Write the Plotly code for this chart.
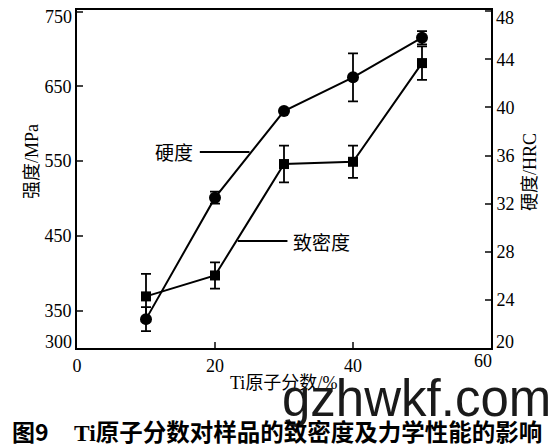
import plotly.graph_objects as go

ti_frac = [10, 20, 30, 40, 50]
hardness = [22.4, 32.5, 39.7, 42.5, 45.8]
hardness_err = [1.0, 0.5, 0.0, 2.0, 0.55]
density = [369, 397, 546, 549, 681]
density_err = [30, 17.5, 24.6, 21.5, 22.4]

x_ticks = [0, 20, 40, 60]
left_ticks = [300, 350, 450, 550, 650, 750]
right_ticks = [20, 24, 28, 32, 36, 40, 44, 48]

serif = "Liberation Serif, DejaVu Serif, serif"
cjk = "Noto Sans CJK SC"
TF = 18  # tick font size

OFF = 8  # page body margin
W, H = 557 - OFF, 448 - OFF
L, T = 77 - OFF, 10 - OFF
R = W - (491 - OFF)
B = H - (348 - OFF)
PW, PH = W - L - R, H - T - B


def px(xp):
    return (xp - OFF - L) / PW


def py(yp):
    return (H - B - (yp - OFF)) / PH


def sp(text):
    return '<span style="font-family:Liberation Serif">' + text + '</span>'


fig = go.Figure()
fig.add_trace(go.Scatter(
    x=ti_frac, y=density, yaxis="y", mode="lines+markers",
    line=dict(color="black", width=2),
    marker=dict(symbol="square", size=10, color="black"),
    error_y=dict(type="data", array=density_err, color="black", thickness=1.8, width=5),
    showlegend=False))
fig.add_trace(go.Scatter(
    x=ti_frac, y=hardness, yaxis="y2", mode="lines+markers",
    line=dict(color="black", width=2),
    marker=dict(symbol="circle", size=12, color="black"),
    error_y=dict(type="data", array=hardness_err, color="black", thickness=1.8, width=5),
    showlegend=False))

# leader lines for labels
fig.add_shape(type="line", xref="x", yref="y2", x0=17.8, x1=25.0, y0=36.3, y1=36.3,
              line=dict(color="black", width=2))
fig.add_shape(type="line", xref="x", yref="y", x0=23.3, x1=30.5, y0=443, y1=443,
              line=dict(color="black", width=2))
fig.add_annotation(x=14.0, y=36.3, xref="x", yref="y2", text="硬度", showarrow=False,
                   xanchor="center", font=dict(family=cjk, size=19, color="black"))
fig.add_annotation(x=35.4, y=443, xref="x", yref="y", text="致密度", showarrow=False,
                   xanchor="center", font=dict(family=cjk, size=19, color="black"))

# end tick labels, nudged inward as in the reference
tick_font = dict(family=serif, size=TF, color="black")
fig.add_annotation(x=0, y=left_ticks[-1], xref="paper", yref="y", text=str(left_ticks[-1]),
                   showarrow=False, xanchor="right", yanchor="middle", xshift=-3, yshift=-5,
                   font=tick_font)
fig.add_annotation(x=0, y=left_ticks[0], xref="paper", yref="y", text=str(left_ticks[0]),
                   showarrow=False, xanchor="right", yanchor="middle", xshift=-3, yshift=6,
                   font=tick_font)
fig.add_annotation(x=1, y=right_ticks[-1], xref="paper", yref="y2", text=str(right_ticks[-1]),
                   showarrow=False, xanchor="left", yanchor="middle", xshift=3, yshift=-7,
                   font=tick_font)
fig.add_annotation(x=1, y=right_ticks[0], xref="paper", yref="y2", text=str(right_ticks[0]),
                   showarrow=False, xanchor="left", yanchor="middle", xshift=3, yshift=6,
                   font=tick_font)
fig.add_annotation(x=x_ticks[-1], y=0, xref="x", yref="paper", text=str(x_ticks[-1]),
                   showarrow=False, xanchor="center", yanchor="top", xshift=-8, yshift=-1,
                   font=tick_font)

# axis titles placed manually
fig.add_annotation(x=px(283), y=py(381), xref="paper", yref="paper",
                   text=sp("Ti") + "原子分数" + sp("/%"),
                   showarrow=False, xanchor="center", yanchor="middle",
                   font=dict(family=cjk, size=18, color="black"))
fig.add_annotation(x=px(30), y=py(162), xref="paper", yref="paper",
                   text="强度" + sp("/MPa"),
                   showarrow=False, textangle=-90, xanchor="center", yanchor="middle",
                   font=dict(family=cjk, size=18, color="black"))
fig.add_annotation(x=px(528), y=py(172), xref="paper", yref="paper",
                   text="硬度" + sp("/HRC"),
                   showarrow=False, textangle=-90, xanchor="center", yanchor="middle",
                   font=dict(family=cjk, size=18, color="black"))

# watermark and caption
fig.add_annotation(x=px(416), y=py(398), xref="paper", yref="paper", text="gzhwkf.com",
                   showarrow=False, xanchor="center", yanchor="middle",
                   font=dict(family="Liberation Sans, Arial", size=51, color="#1a1a1a"))
fig.add_annotation(x=px(10), y=py(431), xref="paper", yref="paper", xanchor="left", yanchor="middle",
                   text="<b>图9</b>",
                   showarrow=False, font=dict(family=cjk, size=23, color="black"))
fig.add_annotation(x=px(72), y=py(431), xref="paper", yref="paper", xanchor="left", yanchor="middle",
                   text="<b>" + sp("Ti") + "原子分数对样品的致密度及力学性能的影响</b>",
                   showarrow=False, font=dict(family=cjk, size=23.5, color="black"))

fig.update_layout(
    width=W, height=H,
    margin=dict(l=L, r=R, t=T, b=B),
    paper_bgcolor="white", plot_bgcolor="white",
    xaxis=dict(range=[0, 60], tickvals=x_ticks,
               ticktext=[str(v) for v in x_ticks[:-1]] + [""],
               ticks="inside", ticklen=6, tickwidth=1.5,
               showline=True, linecolor="black", linewidth=2, mirror=True, showgrid=False,
               zeroline=False, automargin=False, tickfont=tick_font),
    yaxis=dict(range=[300, 752], tickvals=left_ticks,
               ticktext=[""] + [str(v) for v in left_ticks[1:-1]] + [""],
               ticks="inside", ticklen=6, tickwidth=1.5,
               showline=True, linecolor="black", linewidth=2, showgrid=False, zeroline=False,
               automargin=False, tickfont=tick_font),
    yaxis2=dict(range=[20, 48.1], tickvals=right_ticks,
                ticktext=[""] + [str(v) for v in right_ticks[1:-1]] + [""],
                ticks="inside", ticklen=6, tickwidth=1.5,
                overlaying="y", side="right", showline=True, linecolor="black", linewidth=2,
                showgrid=False, zeroline=False, automargin=False, tickfont=tick_font),
)

fig.write_html("out.html")
